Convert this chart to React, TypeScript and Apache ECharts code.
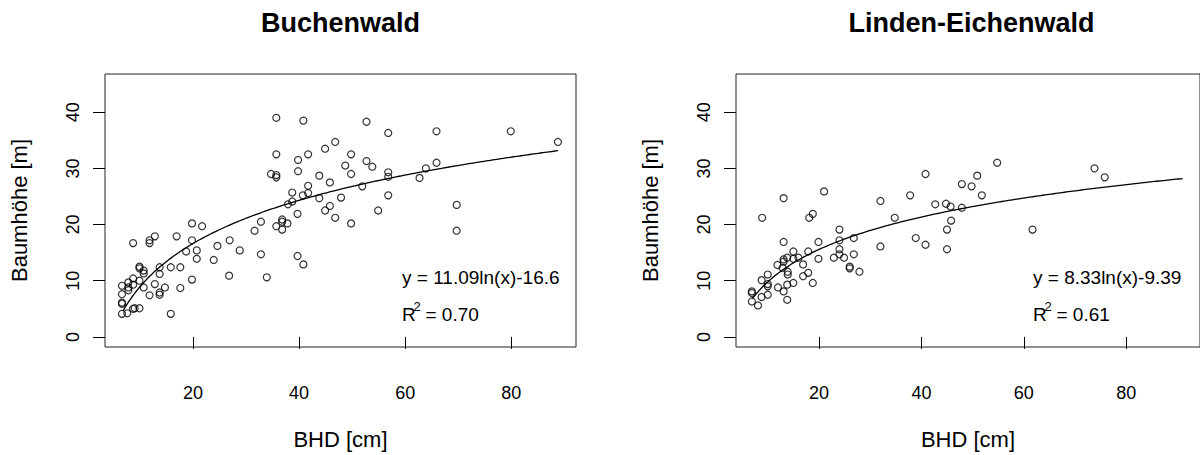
import React, { useEffect, useRef } from "react";
import * as echarts from "echarts";

const titles = ["Buchenwald", "Linden-Eichenwald"];
const xAxisName = "BHD [cm]";
const yAxisName = "Baumhöhe [m]";
const xTicks = [20, 40, 60, 80];
const yTicks = [0, 10, 20, 30, 40];

const buchenX = [35.7, 40.8, 35.7, 39.8, 41.7, 44.9, 46.8, 34.7, 35.7, 35.7, 39.8, 43.8, 41.7, 45.8, 38.7, 40.7, 41.7, 43.8, 47.9, 37.9, 38.7, 45.8, 52.7, 56.8, 65.9, 79.9, 88.8, 49.8, 48.7, 52.7, 53.8, 49.8, 56.8, 56.8, 63.9, 65.9, 62.7, 51.9, 56.8, 69.7, 69.7, 54.9, 46.8, 49.8, 44.9, 39.7, 35.7, 36.8, 36.8, 37.8, 36.8, 32.8, 31.6, 39.7, 40.8, 32.8, 33.9, 26.9, 28.8, 23.9, 24.6, 26.8, 19.8, 21.7, 19.8, 18.7, 20.7, 20.7, 19.8, 16.9, 15.8, 17.6, 17.6, 15.8, 12.8, 11.8, 11.8, 8.7, 13.7, 13.7, 12.8, 13.7, 13.7, 14.7, 11.8, 10.7, 9.9, 9.9, 10.7, 10.7, 9.9, 8.7, 8.7, 7.8, 7.8, 7.8, 6.6, 6.6, 6.6, 6.6, 6.6, 7.6, 8.7, 9.0, 9.9];
const buchenY = [39.0, 38.5, 32.5, 31.5, 32.5, 33.5, 34.7, 29.0, 28.8, 28.4, 29.5, 28.7, 26.9, 27.5, 25.7, 25.2, 25.6, 24.7, 24.8, 23.6, 24.1, 23.3, 38.3, 36.3, 36.6, 36.6, 34.7, 32.5, 30.5, 31.3, 30.3, 29.0, 29.3, 28.5, 30.0, 31.0, 28.3, 26.8, 25.2, 23.5, 18.9, 22.5, 21.2, 20.2, 22.5, 21.9, 19.7, 20.9, 20.5, 20.2, 19.1, 20.5, 18.9, 14.4, 12.9, 14.7, 10.6, 17.2, 15.4, 13.7, 16.2, 10.9, 20.2, 19.7, 17.2, 15.2, 15.4, 13.9, 10.2, 17.9, 12.4, 12.4, 8.7, 4.1, 17.9, 17.2, 16.7, 16.7, 12.4, 11.2, 9.4, 7.9, 7.5, 8.8, 7.4, 8.8, 12.5, 12.2, 11.8, 11.3, 10.0, 10.4, 9.3, 9.7, 8.8, 8.3, 9.1, 7.6, 6.1, 5.9, 4.1, 4.2, 5.0, 5.1, 5.1];

const lindenX = [13.1, 21.0, 32.0, 37.8, 40.8, 42.7, 44.8, 45.7, 47.9, 47.9, 49.8, 50.9, 51.8, 54.8, 73.8, 75.8, 45.8, 45.0, 45.0, 61.7, 8.9, 18.1, 18.8, 34.8, 24.0, 24.0, 24.0, 26.8, 32.0, 38.9, 40.8, 13.1, 19.9, 17.9, 15.0, 19.9, 22.9, 24.9, 24.0, 26.8, 26.0, 26.0, 27.9, 16.9, 16.0, 15.0, 13.8, 13.1, 13.1, 11.9, 12.9, 13.9, 13.9, 17.9, 16.9, 18.8, 15.0, 13.8, 12.0, 13.1, 13.8, 10.0, 8.8, 10.0, 10.0, 10.0, 8.8, 6.9, 6.9, 6.9, 8.1];
const lindenY = [24.7, 25.9, 24.2, 25.2, 29.0, 23.6, 23.7, 23.2, 23.0, 27.2, 26.8, 28.7, 25.2, 31.0, 30.0, 28.4, 20.7, 19.1, 15.6, 19.1, 21.2, 21.2, 21.9, 21.2, 19.1, 17.2, 15.6, 17.6, 16.1, 17.6, 16.4, 16.9, 16.9, 15.2, 15.2, 13.9, 14.1, 14.1, 14.7, 14.7, 12.5, 12.2, 11.6, 12.9, 14.1, 13.9, 14.1, 13.8, 13.4, 12.8, 12.3, 11.6, 11.1, 11.4, 10.8, 9.6, 9.6, 9.3, 8.8, 8.1, 6.6, 11.1, 10.1, 9.4, 9.0, 7.5, 7.1, 8.1, 7.8, 6.3, 5.6];

// fitted log curves y = a*ln(x) + b, as printed on the chart
const buchenCoef = [11.09, -16.6];
const lindenCoef = [8.33, -9.39];
const buchenCurveRange = [6.8, 88.8];
const lindenCurveRange = [7.0, 91.0];
const equations = ["y = 11.09ln(x)-16.6", "y = 8.33ln(x)-9.39"];
const rSquared = ["0.70", "0.61"];

const xRanges = [[3.4, 92.2], [3.8, 94.4]];
const yRange = [-1.8, 46.8];

const FONT = "'Liberation Sans', Arial, Helvetica, sans-serif";

function curve(coef: number[], range: number[]) {
  const pts: number[][] = [];
  const n = 200;
  for (let i = 0; i <= n; i++) {
    const x = range[0] + ((range[1] - range[0]) * i) / n;
    pts.push([x, coef[0] * Math.log(x) + coef[1]]);
  }
  return pts;
}

const GRID_LEFTS = [105, 736];
const GRID_TOP = 74;
const GRID_W = 471;
const GRID_H = 276;

export default function App() {
  const ref = useRef<HTMLDivElement>(null);
  useEffect(() => {
    document.body.style.margin = "0";
    if (!ref.current) return;
    const chart = echarts.init(ref.current, null, { renderer: "svg" });
    const xs = [buchenX, lindenX];
    const ys = [buchenY, lindenY];
    const coefs = [buchenCoef, lindenCoef];
    const cr = [buchenCurveRange, lindenCurveRange];

    const grids = GRID_LEFTS.map((l) => ({
      left: l,
      top: GRID_TOP,
      width: GRID_W,
      height: GRID_H,
      show: true,
      borderColor: "#222",
      borderWidth: 1,
      backgroundColor: "transparent",
      containLabel: false,
    }));

    const xAxes = [0, 1].map((i) => ({
      type: "value",
      gridIndex: i,
      min: xRanges[i][0],
      max: xRanges[i][1],
      name: xAxisName,
      nameLocation: "middle",
      nameGap: 81,
      nameTextStyle: { fontFamily: FONT, fontSize: 22, color: "#000" },
      axisLine: { show: false },
      axisTick: { show: true, inside: false, length: 12, customValues: xTicks, lineStyle: { color: "#000", width: 1 } },
      axisLabel: { customValues: xTicks, margin: 37, fontFamily: FONT, fontSize: 18, color: "#000" },
      splitLine: { show: false },
    }));

    const yAxes = [0, 1].map((i) => ({
      type: "value",
      gridIndex: i,
      min: yRange[0],
      max: yRange[1],
      name: yAxisName,
      nameLocation: "middle",
      nameGap: 75,
      nameTextStyle: { fontFamily: FONT, fontSize: 22, color: "#000" },
      axisLine: { show: false },
      axisTick: { show: true, inside: false, length: 12, customValues: yTicks, lineStyle: { color: "#000", width: 1 } },
      axisLabel: { customValues: yTicks, rotate: 90, margin: 23, fontFamily: FONT, fontSize: 18, color: "#000" },
      splitLine: { show: false },
    }));

    const series: any[] = [];
    [0, 1].forEach((i) => {
      series.push({
        type: "scatter",
        xAxisIndex: i,
        yAxisIndex: i,
        data: xs[i].map((x, k) => [x, ys[i][k]]),
        symbol: "circle",
        symbolSize: 7,
        itemStyle: { color: "rgba(0,0,0,0)", borderColor: "#000", borderWidth: 1.2 },
        z: 3,
      });
      series.push({
        type: "line",
        xAxisIndex: i,
        yAxisIndex: i,
        data: curve(coefs[i], cr[i]),
        showSymbol: false,
        symbol: "none",
        lineStyle: { color: "#000", width: 1.3 },
        z: 2,
      });
    });

    const graphics: any[] = [];
    [0, 1].forEach((i) => {
      const gl = GRID_LEFTS[i];
      const cx = gl + GRID_W / 2;
      const ex = gl + 297;
      graphics.push({
        type: "text",
        x: cx,
        y: 23,
        style: { text: titles[i], font: `bold 27px ${FONT}`, fill: "#000", textAlign: "center", textVerticalAlign: "middle" },
      });
      graphics.push({
        type: "text",
        x: ex,
        y: 277,
        style: { text: equations[i], font: `19px ${FONT}`, fill: "#000", textAlign: "left", textVerticalAlign: "middle" },
      });
      graphics.push({
        type: "text",
        x: ex,
        y: 314,
        style: { text: "R", font: `19px ${FONT}`, fill: "#000", textAlign: "left", textVerticalAlign: "middle" },
      });
      graphics.push({
        type: "text",
        x: ex + 11.5,
        y: 306,
        style: { text: "2", font: `13px ${FONT}`, fill: "#000", textAlign: "left", textVerticalAlign: "middle" },
      });
      graphics.push({
        type: "text",
        x: ex + 23.5,
        y: 314,
        style: { text: "= " + rSquared[i], font: `19px ${FONT}`, fill: "#000", textAlign: "left", textVerticalAlign: "middle" },
      });
    });

    chart.setOption({
      animation: false,
      backgroundColor: "#fff",
      grid: grids,
      xAxis: xAxes,
      yAxis: yAxes,
      series,
      graphic: graphics,
    } as any);
    return () => chart.dispose();
  }, []);
  return <div ref={ref} style={{ width: 1200, height: 455 }} />;
}
